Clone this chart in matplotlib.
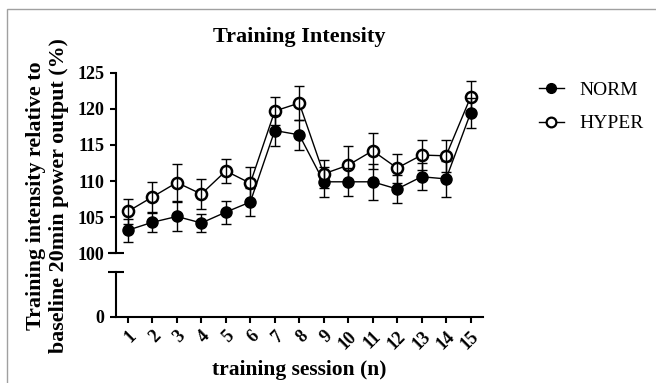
import numpy as np
import matplotlib
matplotlib.use("Agg")
import matplotlib.pyplot as plt
from matplotlib.patches import Rectangle
from matplotlib.lines import Line2D

plt.rcParams['font.family'] = ['Liberation Serif', 'DejaVu Serif']

# ---------------------------------------------------------
# Data: training intensity per session (mean, SD)
# ---------------------------------------------------------
sessions = np.arange(1, 16)
norm_mean = [103.2, 104.3, 105.1, 104.2, 105.7, 107.1, 117.0, 116.4,
             109.9, 109.9, 109.9, 108.9, 110.6, 110.3, 119.4]
norm_sd = [1.6, 1.3, 2.0, 1.3, 1.6, 1.9, 2.1, 2.1,
           2.1, 1.9, 2.5, 2.0, 1.9, 2.5, 2.1]
hyper_mean = [105.8, 107.8, 109.8, 108.2, 111.4, 109.7, 119.7, 120.8,
              111.0, 112.2, 114.2, 111.8, 113.6, 113.5, 121.6]
hyper_sd = [1.7, 2.1, 2.5, 2.1, 1.7, 2.3, 2.0, 2.4,
            1.9, 2.6, 2.5, 2.0, 2.1, 2.2, 2.3]

upper_ticks = [100, 105, 110, 115, 120, 125]

# ---------------------------------------------------------
# Figure with a broken y axis (0 | 100-125)
# ---------------------------------------------------------
fig = plt.figure(figsize=(6.56, 3.83), dpi=100)
ax = fig.add_axes([0.1764, 0.3386, 0.5595, 0.4715])
ax_lo = fig.add_axes([0.1764, 0.1731, 0.5595, 0.1175])

spine_w = 1.5
for a in (ax, ax_lo):
    a.set_xlim(0.5, 15.5)
    a.spines['top'].set_visible(False)
    a.spines['right'].set_visible(False)
    a.spines['left'].set_linewidth(spine_w)
    a.spines['bottom'].set_linewidth(spine_w)
    a.tick_params(width=spine_w, length=4.5, labelsize=13)
    a.patch.set_alpha(0)

ax.spines['bottom'].set_visible(False)
ax.set_ylim(100, 125)
ax.set_yticks(upper_ticks)
ax.set_xticks([])
for lab in ax.get_yticklabels():
    lab.set_fontweight('bold')

ax_lo.set_ylim(0, 10)
ax_lo.set_yticks([0])
ax_lo.set_xticks(sessions)
ax_lo.set_xticklabels([str(s) for s in sessions], rotation=45,
                      ha='right', rotation_mode='anchor', fontweight='bold')
for lab in ax_lo.get_yticklabels():
    lab.set_fontweight('bold')

# caps at the axis break
ax.plot(0, 0, marker='_', markersize=11, mew=spine_w, color='black',
        transform=ax.transAxes, clip_on=False)
ax_lo.plot(0, 1, marker='_', markersize=11, mew=spine_w, color='black',
           transform=ax_lo.transAxes, clip_on=False)

# connecting lines, then markers, then error bars on top
ax.plot(sessions, norm_mean, color='black', lw=1, zorder=2)
ax.plot(sessions, hyper_mean, color='black', lw=1, zorder=2)
ax.plot(sessions, norm_mean, 'o', color='black', ms=8, zorder=3)
ax.plot(sessions, hyper_mean, 'o', mfc='white', mec='black', mew=1.8,
        ms=8, zorder=3)
ax.errorbar(sessions, norm_mean, yerr=norm_sd, fmt='none', ecolor='black',
            elinewidth=1, capsize=3.5, capthick=1, zorder=4)
ax.errorbar(sessions, hyper_mean, yerr=hyper_sd, fmt='none', ecolor='black',
            elinewidth=1, capsize=3.5, capthick=1, zorder=4)

# labels
fig.text(0.456, 0.904, 'Training Intensity', ha='center', va='center',
         fontsize=16, fontweight='bold')
fig.text(0.073, 0.49,
         'Training intensity relative to\nbaseline 20min power output (%)',
         ha='center', va='center', rotation=90, fontsize=15.8,
         fontweight='bold', linespacing=1.2)
ax_lo.set_xlabel('training session (n)', fontsize=15.5, fontweight='bold',
                 labelpad=5)

# legend
handles = [
    Line2D([], [], color='black', lw=1, marker='o', ms=7),
    Line2D([], [], color='black', lw=1, marker='o', ms=7, mfc='white',
           mew=1.6),
]
fig.legend(handles, ['NORM', 'HYPER'], loc='upper left',
           bbox_to_anchor=(0.821, 0.787), frameon=False, fontsize=14,
           handlelength=1.3, handletextpad=0.8, labelspacing=0.8,
           borderpad=0, borderaxespad=0)

# outer frame
fig.add_artist(Rectangle((7 / 656, -0.1), 1.2, 1.0765, transform=fig.transFigure,
                         fill=False, edgecolor='#a0a0a0', lw=1))

fig.savefig('out.png', dpi=100)
